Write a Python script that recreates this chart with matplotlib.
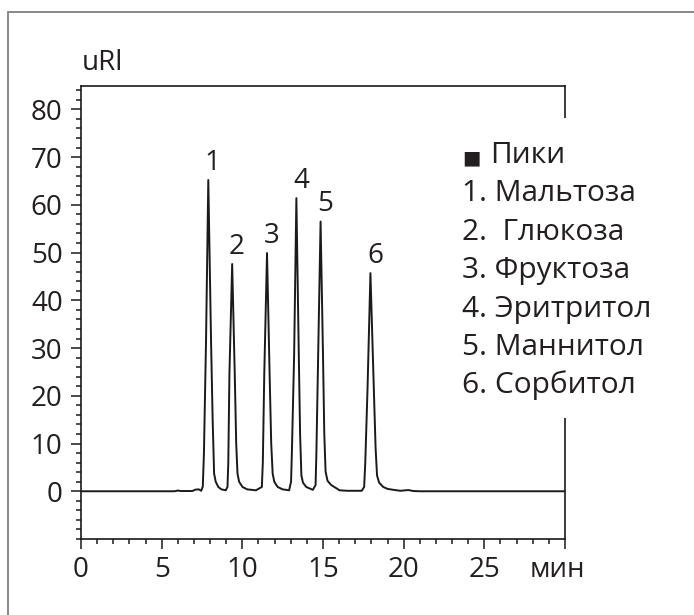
import matplotlib
matplotlib.use("Agg")
import matplotlib.pyplot as plt
from matplotlib.patches import Rectangle
from matplotlib.ticker import MultipleLocator, FixedLocator
import matplotlib.transforms as mtransforms

plt.rcParams['font.family'] = ['Open Sans', 'DejaVu Sans']

# ---- data ----
time_min = [0, 5.8, 6.0, 6.2, 6.9, 7.1, 7.3, 7.45, 7.55, 7.62, 7.75, 7.89, 8.06, 8.16, 8.25, 8.35, 8.51, 8.7, 8.97,
            9.08, 9.13, 9.20, 9.37, 9.53, 9.62, 9.70, 9.80, 10.01, 10.3, 10.84,
            11.21, 11.27, 11.36, 11.53, 11.69, 11.79, 11.88, 11.98, 12.19, 12.5, 12.9,
            13.02, 13.07, 13.21, 13.35, 13.50, 13.58, 13.66, 13.76, 13.96, 14.37,
            14.54, 14.59, 14.70, 14.85, 15.00, 15.08, 15.16, 15.28, 15.51, 16.03,
            16.5, 17.4, 17.55, 17.62, 17.76, 17.94, 18.15, 18.26, 18.35, 18.48, 18.73, 19.0, 19.36,
            19.8, 20.1, 20.3, 20.6, 21.0, 30.0]
signal_uRI = [0, 0, 0.15, 0.05, 0.05, 0.35, 0.4, 0.1, 1.0, 8, 31.6, 65.2, 31.6, 15, 3.7, 2.0, 0.9, 0.4, 0.2,
              0.9, 6, 24.6, 47.6, 24.6, 10, 3.7, 2.0, 0.9, 0.4, 0.2,
              0.9, 6, 24.6, 49.9, 24.6, 10, 3.7, 2.0, 0.9, 0.4, 0.2,
              2.0, 8, 28.5, 61.4, 28.5, 12, 3.3, 1.8, 0.9, 0.3,
              1.3, 8, 28.5, 56.5, 28.5, 12, 4.1, 2.2, 1.3, 0.2,
              0.1, 0.1, 0.9, 6, 21.5, 45.7, 21.5, 9, 3.3, 1.8, 0.9, 0.5, 0.3,
              0.1, 0.2, 0.25, 0.05, 0, 0]

peak_labels = ["1", "2", "3", "4", "5", "6"]
peak_times = [7.89, 9.37, 11.53, 13.35, 14.85, 17.94]
peak_heights = [65.2, 47.6, 49.9, 61.4, 56.5, 45.7]

legend_title = "Пики"
compound_names = ["1. Мальтоза", "2.  Глюкоза", "3. Фруктоза", "4. Эритритол",
                  "5. Маннитол", "6. Сорбитол"]

x_tick_values = [0, 5, 10, 15, 20, 25, 30]
x_tick_labels = ["0", "5", "10", "15", "20", "25", ""]
y_tick_values = [0, 10, 20, 30, 40, 50, 60, 70, 80]
x_unit = "мин"
y_unit = "uRl"

# ---- figure ----
TXT = '#231f20'
fig = plt.figure(figsize=(6.94, 6.15), dpi=100)
fig.patch.set_facecolor('white')

# outer frame
fig.add_artist(Rectangle((8/694, -0.05), 1.0, 1 - 12/615 + 0.05, transform=fig.transFigure,
                         fill=False, edgecolor='#808080', linewidth=1.3))

AX_H = 539 - 85.5
ax = fig.add_axes([81/694, 1 - 539/615, (565 - 81)/694, AX_H/615])
ax.plot(time_min, signal_uRI, color='#1a1a1a', linewidth=1.4, solid_joinstyle='round')

ax.set_xlim(0, 30)
ax.set_ylim(-10, 85)

for s in ax.spines.values():
    s.set_linewidth(1.2)
    s.set_color('#1a1a1a')

ax.xaxis.set_major_locator(FixedLocator(x_tick_values))
ax.set_xticklabels(x_tick_labels)
ax.xaxis.set_minor_locator(MultipleLocator(1))
ax.yaxis.set_major_locator(FixedLocator(y_tick_values))
ax.yaxis.set_minor_locator(MultipleLocator(2))
ax.tick_params(axis='both', which='major', direction='out', length=7.2, width=1.1,
               color='#1a1a1a', labelsize=20, labelcolor=TXT)
ax.tick_params(axis='both', which='minor', direction='out', length=3.6, width=1.1, color='#1a1a1a')
ax.tick_params(axis='x', which='major', pad=5)
ax.tick_params(axis='y', which='major', pad=6)

# axis unit labels
trans_x = mtransforms.blended_transform_factory(ax.transData, ax.transAxes)
ax.text(29.55, -(577 - 539) / AX_H, x_unit, transform=trans_x, ha='center', va='baseline',
        fontsize=20, color=TXT)
ax.text(0.002, (539 - 70) / AX_H, y_unit, transform=ax.transAxes, ha='left', va='baseline',
        fontsize=20, color=TXT)

# peak labels
for lab, t, h in zip(peak_labels, peak_times, peak_heights):
    ax.annotate(lab, (t, h), xytext=(3.2, 2.5), textcoords='offset points',
                ha='center', va='bottom', fontsize=20, color=TXT)

# legend box covering right spine
ax.add_patch(Rectangle((22.3, 15.35), 15, 78.2 - 15.35, facecolor='white', edgecolor='none',
                       zorder=3, clip_on=False))
px_x = 484 / 30.0
px_y = AX_H / 95.0
leg_x = (462 - 81) / px_x
base0 = (539 - 163) / px_y - 10
row_step = 38.4 / px_y
ax.text(leg_x, base0, '■', fontsize=14, color=TXT, ha='left', va='baseline', zorder=4,
        family='DejaVu Sans')
ax.text((490 - 81) / px_x, base0, legend_title, fontsize=21.5, color=TXT, ha='left',
        va='baseline', zorder=4)
for i, name in enumerate(compound_names):
    ax.text(leg_x, base0 - row_step * (i + 1), name, fontsize=21.5, color=TXT, ha='left',
            va='baseline', zorder=4)

fig.savefig('out.png', dpi=100, facecolor='white')
